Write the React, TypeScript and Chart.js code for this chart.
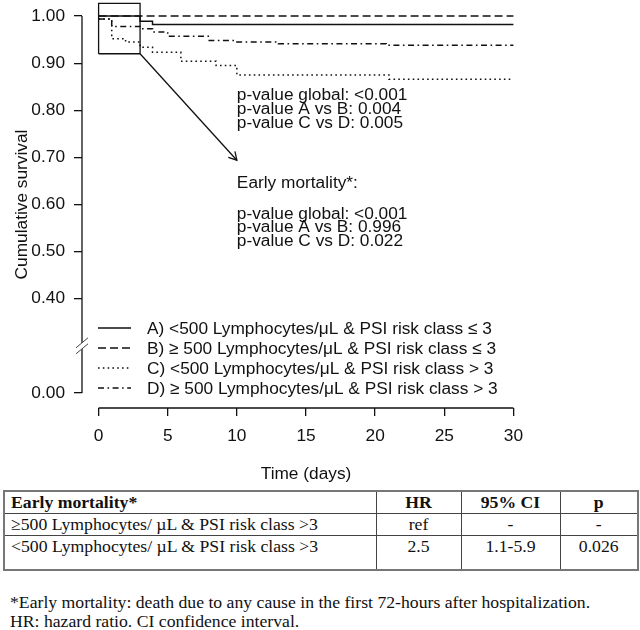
import React, { useEffect, useRef } from "react";
import { Chart, registerables } from "chart.js";

Chart.register(...registerables);

const FONT = '"Liberation Sans", Arial, Helvetica, sans-serif';
const SERIF = '"Liberation Serif", "Times New Roman", Times, serif';
const INK = "#111111";
const FS = 17.3;

// ---- axes ----
const xTicks = [0, 5, 10, 15, 20, 25, 30];
const yTickValues = [0.2, 0.4, 0.5, 0.6, 0.7, 0.8, 0.9, 1.0];
const yTickLabels = ["0.00", "0.40", "0.50", "0.60", "0.70", "0.80", "0.90", "1.00"];
const yBreakValue = 0.3;
const xTitle = "Time (days)";
const yTitle = "Cumulative survival";

// ---- Kaplan-Meier series (time in days, cumulative survival) ----
const timesA = [0, 3, 3.9, 30];
const survA = [1.0, 0.989, 0.982, 0.982];
const timesB = [0, 30];
const survB = [1.0, 1.0];
const timesC = [0, 0.95, 1.95, 3, 3.9, 5.95, 8.5, 10, 21, 30];
const survC = [0.994, 0.952, 0.945, 0.934, 0.923, 0.904, 0.895, 0.875, 0.866, 0.866];
const timesD = [0, 0.95, 3, 3.9, 5, 8, 10, 13, 20.8, 30];
const survD = [0.994, 0.978, 0.973, 0.966, 0.957, 0.948, 0.945, 0.941, 0.938, 0.938];

const seriesNames = [
  "A) <500 Lymphocytes/μL & PSI risk class ≤ 3",
  "B) ≥ 500 Lymphocytes/μL & PSI risk class ≤ 3",
  "C) <500 Lymphocytes/μL & PSI risk class > 3",
  "D) ≥ 500 Lymphocytes/μL & PSI risk class > 3",
];

// ---- zoom box and arrow ----
const boxTimes = [0, 0, 3, 3, 0];
const boxSurv = [0.92, 1.027, 1.027, 0.92, 0.92];
const arrowTimes = [3, 10];
const arrowSurv = [0.92, 0.694];

// ---- annotations ----
const note1Lines = ["p-value global: <0.001", "p-value A vs B: 0.004", "p-value C vs D: 0.005"];
const note1At = [10, 0.802];
const note2Title = "Early mortality*:";
const note2TitleAt = [10, 0.645];
const note2Lines = ["p-value global: <0.001", "p-value A vs B: 0.996", "p-value C vs D: 0.022"];
const note2At = [10, 0.551];

// ---- table ----
const tableHeader = ["Early mortality*", "HR", "95% CI", "p"];
const tableRowLabels = [
  "≥500 Lymphocytes/ µL & PSI risk class >3",
  "<500 Lymphocytes/ µL & PSI risk class >3",
];
const tableHR = ["ref", "2.5"];
const tableCI = ["-", "1.1-5.9"];
const tableP = ["-", "0.026"];
const footnotes = [
  "*Early mortality: death due to any cause in the first 72-hours after hospitalization.",
  "HR: hazard ratio. CI confidence interval.",
];

const toPts = (xs: number[], ys: number[]) => xs.map((t, i) => ({ x: t, y: ys[i] }));

const dashA: number[] = [];
const dashB = [8, 4];
const dashC = [1.6, 3.2];
const dashD = [6, 3.5, 1.6, 3.5];
const seriesDashes = [dashA, dashB, dashC, dashD];

const overlay = {
  id: "overlay",
  afterDatasetsDraw(chart: any) {
    const { ctx, chartArea } = chart;
    const x = chart.scales.x;
    const y = chart.scales.y;
    ctx.save();
    ctx.strokeStyle = INK;
    ctx.fillStyle = INK;
    ctx.lineWidth = 1.3;
    ctx.setLineDash([]);

    // y axis line (R style: tick range only)
    const ax = chartArea.left;
    ctx.beginPath();
    ctx.moveTo(ax, y.getPixelForValue(yTickValues[0]));
    ctx.lineTo(ax, y.getPixelForValue(yTickValues[yTickValues.length - 1]));
    ctx.stroke();
    // x axis line
    const ay = chartArea.bottom;
    ctx.beginPath();
    ctx.moveTo(x.getPixelForValue(xTicks[0]), ay);
    ctx.lineTo(x.getPixelForValue(xTicks[xTicks.length - 1]), ay);
    ctx.stroke();

    // axis break
    const by = y.getPixelForValue(yBreakValue);
    ctx.fillStyle = "#ffffff";
    ctx.beginPath();
    ctx.moveTo(ax - 6, by + 2);
    ctx.lineTo(ax + 6, by - 8);
    ctx.lineTo(ax + 6, by - 2);
    ctx.lineTo(ax - 6, by + 8);
    ctx.closePath();
    ctx.fill();
    ctx.strokeStyle = "#444";
    ctx.lineWidth = 1;
    ctx.beginPath();
    ctx.moveTo(ax - 6, by + 2);
    ctx.lineTo(ax + 6, by - 8);
    ctx.moveTo(ax - 6, by + 8);
    ctx.lineTo(ax + 6, by - 2);
    ctx.stroke();

    // arrow head
    ctx.strokeStyle = INK;
    ctx.lineWidth = 1.3;
    const x0 = x.getPixelForValue(arrowTimes[0]);
    const y0 = y.getPixelForValue(arrowSurv[0]);
    const x1 = x.getPixelForValue(arrowTimes[1]);
    const y1 = y.getPixelForValue(arrowSurv[1]);
    const ang = Math.atan2(y1 - y0, x1 - x0);
    const L = 9;
    ctx.beginPath();
    ctx.moveTo(x1 - L * Math.cos(ang - Math.PI / 6), y1 - L * Math.sin(ang - Math.PI / 6));
    ctx.lineTo(x1, y1);
    ctx.lineTo(x1 - L * Math.cos(ang + Math.PI / 6), y1 - L * Math.sin(ang + Math.PI / 6));
    ctx.stroke();

    // annotations
    ctx.fillStyle = INK;
    ctx.font = `${FS}px ${FONT}`;
    ctx.textAlign = "left";
    ctx.textBaseline = "middle";
    const pitch = 13.8;
    const drawBlock = (lines: string[], at: number[]) => {
      const cx = x.getPixelForValue(at[0]);
      const cy = y.getPixelForValue(at[1]);
      const start = cy - ((lines.length - 1) * pitch) / 2;
      lines.forEach((s, i) => ctx.fillText(s, cx, start + i * pitch));
    };
    drawBlock(note1Lines, note1At);
    drawBlock([note2Title], note2TitleAt);
    drawBlock(note2Lines, note2At);

    // legend
    const lx0 = 98;
    const lx1 = 131;
    const tx = 147;
    const row0 = 328;
    const rowPitch = 20;
    seriesNames.forEach((name, i) => {
      const ry = row0 + i * rowPitch;
      ctx.strokeStyle = INK;
      ctx.lineWidth = 1.5;
      ctx.setLineDash(seriesDashes[i]);
      ctx.beginPath();
      ctx.moveTo(lx0, ry);
      ctx.lineTo(lx1, ry);
      ctx.stroke();
      ctx.setLineDash([]);
      ctx.fillText(name, tx, ry + 1);
    });
    ctx.restore();
  },
};

export default function App() {
  const ref = useRef<HTMLCanvasElement>(null);
  useEffect(() => {
    const lineDs = (label: string, xs: number[], ys: number[], dash: number[], stepped: boolean) => ({
      label,
      data: toPts(xs, ys),
      borderColor: INK,
      backgroundColor: INK,
      borderWidth: 1.5,
      borderDash: dash,
      pointRadius: 0,
      fill: false,
      tension: 0,
      stepped: stepped ? ("before" as const) : false,
    });
    const chart = new Chart(ref.current!, {
      type: "line",
      data: {
        datasets: [
          lineDs(seriesNames[0], timesA, survA, dashA, true),
          lineDs(seriesNames[2], timesC, survC, dashC, true),
          lineDs(seriesNames[3], timesD, survD, dashD, true),
          lineDs(seriesNames[1], timesB, survB, dashB, true),
          { ...lineDs("box", boxTimes, boxSurv, [], false), borderWidth: 1.3 },
          { ...lineDs("arrow", arrowTimes, arrowSurv, [], false), borderWidth: 1.3 },
        ],
      },
      options: {
        responsive: false,
        devicePixelRatio: 1,
        animation: false,
        events: [],
        layout: { padding: { top: 1, right: 110, bottom: 0, left: 0 } },
        plugins: { legend: { display: false }, tooltip: { enabled: false } },
        scales: {
          x: {
            type: "linear",
            min: -1.2,
            max: 31.2,
            afterBuildTicks: (s: any) => {
              s.ticks = xTicks.map((v) => ({ value: v }));
            },
            afterFit: (s: any) => {
              s.height = 80;
              s.paddingLeft = 0;
              s.paddingRight = 0;
            },
            ticks: {
              autoSkip: false,
              maxRotation: 0,
              padding: 10,
              color: INK,
              font: { family: FONT, size: FS },
              callback: (v: any) => String(v),
            },
            grid: { drawOnChartArea: false, drawTicks: true, tickLength: 8, color: INK, lineWidth: 1.3 },
            border: { display: false },
            title: {
              display: true,
              text: xTitle,
              color: INK,
              font: { family: FONT, size: FS },
              padding: { top: 0, bottom: 3 },
            },
          },
          y: {
            type: "linear",
            min: 0.168,
            max: 1.032,
            afterBuildTicks: (s: any) => {
              s.ticks = yTickValues.map((v) => ({ value: v }));
            },
            afterFit: (s: any) => {
              s.width = 82;
              s.paddingTop = 0;
              s.paddingBottom = 0;
            },
            ticks: {
              autoSkip: false,
              padding: 9,
              color: INK,
              font: { family: FONT, size: FS },
              callback: (v: any) => {
                const i = yTickValues.findIndex((t) => Math.abs(t - v) < 1e-6);
                return i >= 0 ? yTickLabels[i] : "";
              },
            },
            grid: { drawOnChartArea: false, drawTicks: true, tickLength: 8, color: INK, lineWidth: 1.3 },
            border: { display: false },
            title: {
              display: true,
              text: yTitle,
              color: INK,
              font: { family: FONT, size: FS },
              padding: { top: 12, bottom: 0 },
            },
          },
        },
      },
      plugins: [overlay],
    } as any);
    return () => chart.destroy();
  }, []);

  const cell: React.CSSProperties = {
    border: "1px solid #444",
    padding: "0 6px",
    textAlign: "center",
    verticalAlign: "middle",
    overflow: "hidden",
    whiteSpace: "nowrap",
  };
  const first: React.CSSProperties = { ...cell, textAlign: "left" };

  return (
    <div
      style={{
        position: "absolute",
        left: 0,
        top: 0,
        width: 640,
        height: 630,
        background: "#fff",
        overflow: "hidden",
        color: INK,
      }}
    >
      <canvas ref={ref} width={640} height={488} style={{ display: "block", width: 640, height: 488 }} />
      <table
        style={{
          position: "absolute",
          left: 3,
          top: 490,
          width: 634,
          borderCollapse: "collapse",
          border: "2px solid #777",
          fontFamily: SERIF,
          fontSize: 17.7,
          lineHeight: "19px",
          tableLayout: "fixed",
        }}
      >
        <colgroup>
          <col style={{ width: 372 }} />
          <col style={{ width: 85 }} />
          <col style={{ width: 99 }} />
          <col style={{ width: 78 }} />
        </colgroup>
        <tbody>
          <tr style={{ height: 22 }}>
            <td style={{ ...first, fontWeight: "bold" }}>{tableHeader[0]}</td>
            <td style={{ ...cell, fontWeight: "bold" }}>{tableHeader[1]}</td>
            <td style={{ ...cell, fontWeight: "bold" }}>{tableHeader[2]}</td>
            <td style={{ ...cell, fontWeight: "bold" }}>{tableHeader[3]}</td>
          </tr>
          {tableRowLabels.map((lab, i) => {
            const last = i === tableRowLabels.length - 1;
            const va: React.CSSProperties = last ? { verticalAlign: "top", paddingTop: 1 } : {};
            return (
              <tr key={i} style={{ height: last ? 35 : 22 }}>
                <td style={{ ...first, ...va }}>{lab}</td>
                <td style={{ ...cell, ...va }}>{tableHR[i]}</td>
                <td style={{ ...cell, ...va }}>{tableCI[i]}</td>
                <td style={{ ...cell, ...va }}>{tableP[i]}</td>
              </tr>
            );
          })}
        </tbody>
      </table>
      {footnotes.map((f, i) => (
        <div
          key={i}
          style={{
            position: "absolute",
            left: 10,
            top: 593 + i * 19,
            fontFamily: SERIF,
            fontSize: 17.7,
            lineHeight: "19px",
            whiteSpace: "nowrap",
          }}
        >
          {f}
        </div>
      ))}
    </div>
  );
}
